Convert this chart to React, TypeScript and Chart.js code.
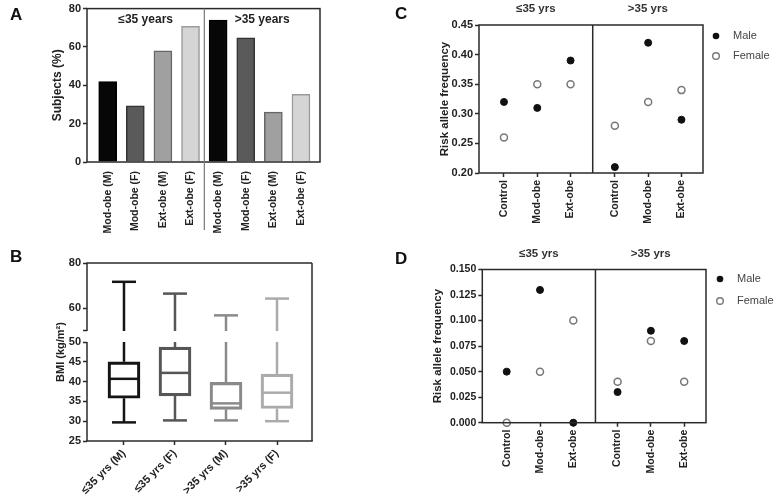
import React, { useEffect, useRef } from 'react';
import { Chart, registerables, LinearScale } from 'chart.js';

const FONT = '"Liberation Sans", Arial, Helvetica, sans-serif';

// ---------- Panel A data ----------
const A_GROUPS = ['≤35 years', '>35 years'];
const A_CATEGORIES = ['Mod-obe (M)', 'Mod-obe (F)', 'Ext-obe (M)', 'Ext-obe (F)', 'Mod-obe (M)', 'Mod-obe (F)', 'Ext-obe (M)', 'Ext-obe (F)'];
const A_VALUES = [42, 29.3, 58, 70.7, 74, 64.7, 26, 35.3];
const A_TICKS = [0, 20, 40, 60, 80];

// ---------- Panel B data ----------
const B_CATEGORIES = ['≤35 yrs (M)', '≤35 yrs (F)', '>35 yrs (M)', '>35 yrs (F)'];
const B_MIN = [29.7, 30.2, 30.2, 30.0];
const B_Q1 = [35.8, 36.4, 33.0, 33.2];
const B_MEDIAN = [40.7, 42.2, 34.5, 37.2];
const B_Q3 = [45.0, 48.7, 39.8, 41.9];
const B_MAX = [71.7, 66.5, 56.9, 64.3];
const B_TICKS = [25, 30, 35, 40, 45, 50, 60, 80];

// ---------- Panels C & D data ----------
const CD_GROUPS = ['≤35 yrs', '>35 yrs'];
const CD_CATEGORIES = ['Control', 'Mod-obe', 'Ext-obe', 'Control', 'Mod-obe', 'Ext-obe'];
const CD_SERIES = ['Male', 'Female'];
const C_MALE = [0.32, 0.31, 0.39, 0.21, 0.42, 0.29];
const C_FEMALE = [0.26, 0.35, 0.35, 0.28, 0.32, 0.34];
const C_TICKS = [0.2, 0.25, 0.3, 0.35, 0.4, 0.45];
const D_MALE = [0.05, 0.13, 0.0, 0.03, 0.09, 0.08];
const D_FEMALE = [0.0, 0.05, 0.1, 0.04, 0.08, 0.04];
const D_TICKS = [0, 0.025, 0.05, 0.075, 0.1, 0.125, 0.15];

// ---------- styling ----------
const A_FILL = ['#070707', '#5a5a5a', '#a0a0a0', '#d5d5d5'];
const A_BORDER = ['#000000', '#333333', '#666666', '#9a9a9a'];
const B_COLORS = ['#151515', '#565656', '#8a8a8a', '#ababab'];
const AXIS = '#2a2a2a';
const TEXT = '#222222';

// broken axis layout for panel B (value break between 50 and upper segment)
const BRK = { low: 25, mid: 50, high: 80, lowFrac: 99 / 178, gapFrac: 11 / 178 };

class BrokenScale extends LinearScale {
  getPixelForValue(value: number) {
    const h = this.bottom - this.top;
    const lowH = h * BRK.lowFrac;
    const upH = h * (1 - BRK.lowFrac - BRK.gapFrac);
    if (value <= BRK.mid) return this.bottom - ((value - BRK.low) / (BRK.mid - BRK.low)) * lowH;
    return this.top + ((BRK.high - value) / (BRK.high - BRK.mid)) * upH;
  }
  getValueForPixel(pixel: number) {
    const h = this.bottom - this.top;
    const lowH = h * BRK.lowFrac;
    const upH = h * (1 - BRK.lowFrac - BRK.gapFrac);
    if (pixel >= this.bottom - lowH) return BRK.low + ((this.bottom - pixel) / lowH) * (BRK.mid - BRK.low);
    return BRK.high - ((pixel - this.top) / upH) * (BRK.high - BRK.mid);
  }
}
(BrokenScale as any).id = 'broken';
(BrokenScale as any).defaults = (LinearScale as any).defaults;

Chart.register(...registerables, BrokenScale as any);

const bold = (size: number) => ({ family: FONT, size, weight: 'bold' as const });

function line(ctx: CanvasRenderingContext2D, x1: number, y1: number, x2: number, y2: number) {
  ctx.beginPath();
  ctx.moveTo(x1, y1);
  ctx.lineTo(x2, y2);
  ctx.stroke();
}

function yAxis(min: number, max: number, ticks: number[], width: number, title: string, titleSize: number, tickSize: number, fmt: (v: number) => string, type = 'linear') {
  return {
    type,
    min,
    max,
    afterBuildTicks: (s: any) => { s.ticks = ticks.map((v) => ({ value: v })); },
    afterFit: (s: any) => { s.width = width; },
    ticks: { autoSkip: false, font: bold(tickSize), color: TEXT, padding: 2, callback: (v: any) => fmt(Number(v)) },
    grid: { display: true, drawOnChartArea: false, drawTicks: true, tickLength: 4, tickColor: AXIS, tickWidth: 1.5 },
    border: { display: false },
    title: { display: true, text: title, font: bold(titleSize), color: TEXT, padding: 0 },
  };
}

function xAxis(min: number, max: number, positions: number[], labels: string[], height: number, rotation: number, size: number, tickLen: number, padding: number) {
  return {
    type: 'linear',
    min,
    max,
    offset: false,
    afterBuildTicks: (s: any) => { s.ticks = positions.map((v) => ({ value: v })); },
    afterFit: (s: any) => { s.height = height; },
    ticks: { autoSkip: false, minRotation: rotation, maxRotation: rotation, font: bold(size), color: TEXT, padding, callback: (_v: any, i: number) => labels[i] },
    grid: { display: true, offset: false, drawOnChartArea: false, drawTicks: tickLen > 0, tickLength: tickLen, tickColor: AXIS, tickWidth: 1.5 },
    border: { display: false },
  };
}

const baseOptions = (padding: any) => ({
  responsive: false,
  animation: false as const,
  devicePixelRatio: 1,
  events: [] as any[],
  layout: { padding },
  plugins: { legend: { display: false }, tooltip: { enabled: false } },
});

// ---------- Panel A ----------
function buildA(canvas: HTMLCanvasElement) {
  const overlay = {
    id: 'overlayA',
    afterDraw(chart: any) {
      const { ctx, chartArea: ca, scales } = chart;
      ctx.save();
      ctx.strokeStyle = AXIS;
      ctx.lineWidth = 1.5;
      ctx.strokeRect(ca.left, ca.top, ca.right - ca.left, ca.bottom - ca.top);
      const xd = scales.x.getPixelForValue(3.5);
      ctx.strokeStyle = '#777';
      ctx.lineWidth = 1.2;
      line(ctx, xd, ca.top, xd, ca.bottom + 68);
      ctx.fillStyle = TEXT;
      ctx.font = `bold 12px ${FONT}`;
      ctx.textAlign = 'center';
      ctx.textBaseline = 'middle';
      ctx.fillText(A_GROUPS[0], (ca.left + xd) / 2, ca.top + 11);
      ctx.fillText(A_GROUPS[1], (xd + ca.right) / 2, ca.top + 11);
      ctx.restore();
    },
  };
  return new Chart(canvas, {
    type: 'bar',
    data: {
      datasets: [{
        data: A_VALUES.map((v, i) => ({ x: i, y: v })),
        backgroundColor: A_VALUES.map((_, i) => A_FILL[i % 4]),
        borderColor: A_VALUES.map((_, i) => A_BORDER[i % 4]),
        borderWidth: 1.5,
        barThickness: 18,
      }],
    },
    options: {
      ...baseOptions({ left: 50, top: 6, right: 75, bottom: 0 }),
      scales: {
        x: xAxis(-0.75, 7.69, A_VALUES.map((_, i) => i), A_CATEGORIES, 86, 90, 10.5, 0, 9),
        y: yAxis(0, 80, A_TICKS, 37, 'Subjects (%)', 12, 11, (v) => String(v)),
      },
    } as any,
    plugins: [overlay],
  });
}

// ---------- Panel B ----------
function buildB(canvas: HTMLCanvasElement) {
  const overlay = {
    id: 'overlayB',
    afterDatasetsDraw(chart: any) {
      const { ctx, scales } = chart;
      const ys = (v: number) => scales.y.getPixelForValue(v);
      const vseg = (x: number, v1: number, v2: number) => {
        if (v1 < BRK.mid && v2 > BRK.mid) {
          line(ctx, x, ys(v1), x, ys(BRK.mid));
          line(ctx, x, ys(BRK.mid + 1e-4), x, ys(v2));
        } else {
          line(ctx, x, ys(v1), x, ys(v2));
        }
      };
      ctx.save();
      ctx.lineWidth = 2.5;
      ctx.lineCap = 'butt';
      B_CATEGORIES.forEach((_, i) => {
        const x = scales.x.getPixelForValue(i);
        ctx.strokeStyle = B_COLORS[i];
        vseg(x, B_MIN[i], B_Q1[i]);
        vseg(x, B_Q3[i], B_MAX[i]);
        line(ctx, x - 12, ys(B_MIN[i]), x + 12, ys(B_MIN[i]));
        line(ctx, x - 12, ys(B_MAX[i]), x + 12, ys(B_MAX[i]));
        line(ctx, x - 15, ys(B_MEDIAN[i]), x + 15, ys(B_MEDIAN[i]));
      });
      ctx.restore();
    },
    afterDraw(chart: any) {
      const { ctx, chartArea: ca, scales } = chart;
      const ys = (v: number) => scales.y.getPixelForValue(v);
      ctx.save();
      ctx.strokeStyle = AXIS;
      ctx.lineWidth = 1.5;
      line(ctx, ca.left - 0.75, ca.top, ca.right, ca.top);
      line(ctx, ca.right, ca.top, ca.right, ca.bottom);
      line(ctx, ca.left - 0.75, ca.bottom, ca.right + 0.75, ca.bottom);
      line(ctx, ca.left, ca.bottom, ca.left, ys(BRK.mid));
      line(ctx, ca.left, ys(BRK.mid + 1e-4), ca.left, ca.top);
      ctx.restore();
    },
  };
  const yTicks = [...B_TICKS.slice(0, 6), BRK.mid + 1e-4, ...B_TICKS.slice(6)];
  return new Chart(canvas, {
    type: 'bar',
    data: {
      datasets: [{
        data: B_Q1.map((q, i) => ({ x: i, y: [q, B_Q3[i]] })),
        backgroundColor: 'rgba(255,255,255,0)',
        borderColor: B_COLORS,
        borderWidth: 2.5,
        borderSkipped: false,
        barThickness: 32,
      }],
    },
    options: {
      ...baseOptions({ left: 54, top: 15, right: 83, bottom: 0 }),
      scales: {
        x: xAxis(-0.725, 3.686, B_CATEGORIES.map((_, i) => i), B_CATEGORIES, 56, 45, 11, 4, 2),
        y: yAxis(25, 80, yTicks, 33, 'BMI (kg/m²)', 11, 11, (v) => (Number.isInteger(v) ? String(v) : ''), 'broken'),
      },
    } as any,
    plugins: [overlay],
  });
}

// ---------- Panels C & D ----------
const CD_POS = CD_CATEGORIES.map((_, i) => i + (i >= 3 ? 0.33 : 0));

function buildDots(
  canvas: HTMLCanvasElement,
  male: number[], female: number[], ticks: number[], decimals: number,
  geo: { padLeft: number; padTop: number; padRight: number; yWidth: number; xHeight: number; xMin: number; xMax: number; headerY: number; legX: number; legY: number[]; tickSize: number },
) {
  const overlay = {
    id: 'overlayDots',
    afterDraw(chart: any) {
      const { ctx, chartArea: ca, scales } = chart;
      ctx.save();
      ctx.strokeStyle = AXIS;
      ctx.lineWidth = 1.5;
      ctx.strokeRect(ca.left, ca.top, ca.right - ca.left, ca.bottom - ca.top);
      const xd = scales.x.getPixelForValue((CD_POS[2] + CD_POS[3]) / 2);
      line(ctx, xd, ca.top, xd, ca.bottom);
      ctx.fillStyle = '#333';
      ctx.font = `bold 11.5px ${FONT}`;
      ctx.textAlign = 'center';
      ctx.textBaseline = 'middle';
      ctx.fillText(CD_GROUPS[0], (ca.left + xd) / 2, geo.headerY);
      ctx.fillText(CD_GROUPS[1], (xd + ca.right) / 2, geo.headerY);
      // legend
      ctx.font = `11px ${FONT}`;
      ctx.textAlign = 'left';
      CD_SERIES.forEach((name, i) => {
        const y = geo.legY[i];
        ctx.beginPath();
        ctx.arc(geo.legX, y, 3.3, 0, Math.PI * 2);
        if (i === 0) {
          ctx.fillStyle = '#111';
          ctx.fill();
        } else {
          ctx.fillStyle = '#fff';
          ctx.fill();
          ctx.strokeStyle = '#777';
          ctx.lineWidth = 1.4;
          ctx.stroke();
        }
        ctx.fillStyle = '#444';
        ctx.fillText(name, geo.legX + 17, y);
      });
      ctx.restore();
    },
  };
  return new Chart(canvas, {
    type: 'scatter',
    data: {
      datasets: [
        {
          label: CD_SERIES[0],
          data: male.map((v, i) => ({ x: CD_POS[i], y: v })),
          pointRadius: 3.5,
          pointBackgroundColor: '#111',
          pointBorderColor: '#111',
          pointBorderWidth: 1,
          clip: false,
        },
        {
          label: CD_SERIES[1],
          data: female.map((v, i) => ({ x: CD_POS[i], y: v })),
          pointRadius: 3.5,
          pointBackgroundColor: '#fff',
          pointBorderColor: '#777',
          pointBorderWidth: 1.5,
          clip: false,
        },
      ],
    },
    options: {
      ...baseOptions({ left: geo.padLeft, top: geo.padTop, right: geo.padRight, bottom: 0 }),
      scales: {
        x: xAxis(geo.xMin, geo.xMax, CD_POS, CD_CATEGORIES, geo.xHeight, 90, 10.5, 4, 3),
        y: yAxis(ticks[0], ticks[ticks.length - 1], ticks, geo.yWidth, 'Risk allele frequency', 11.5, geo.tickSize, (v) => v.toFixed(decimals)),
      },
    } as any,
    plugins: [overlay],
  });
}

const buildC = (c: HTMLCanvasElement) => buildDots(c, C_MALE, C_FEMALE, C_TICKS, 2, {
  padLeft: 43, padTop: 25, padRight: 75, yWidth: 41, xHeight: 75, xMin: -0.75, xMax: 5.977,
  headerY: 9, legX: 321, legY: [36, 56], tickSize: 11,
});

const buildD = (c: HTMLCanvasElement) => buildDots(c, D_MALE, D_FEMALE, D_TICKS, 3, {
  padLeft: 36, padTop: 21.5, padRight: 72, yWidth: 51.3, xHeight: 74.3, xMin: -0.733, xMax: 5.985,
  headerY: 5.5, legX: 325, legY: [31, 53], tickSize: 10.5,
});

function Panel({ left, top, width, height, build }: { left: number; top: number; width: number; height: number; build: (c: HTMLCanvasElement) => Chart }) {
  const ref = useRef<HTMLCanvasElement>(null);
  useEffect(() => {
    const chart = build(ref.current!);
    return () => chart.destroy();
  }, []);
  return <canvas ref={ref} width={width} height={height} style={{ position: 'absolute', left, top, width, height }} />;
}

const letter = (left: number, top: number): React.CSSProperties => ({
  position: 'absolute', left, top, fontFamily: FONT, fontWeight: 'bold', fontSize: 17, lineHeight: '17px', color: '#111',
});

export default function App() {
  return (
    <div style={{ position: 'fixed', left: 0, top: 0, width: 778, height: 497, background: '#fff', overflow: 'hidden' }}>
      <Panel left={0} top={0} width={395} height={248} build={buildA} />
      <Panel left={0} top={248} width={395} height={249} build={buildB} />
      <Panel left={395} top={0} width={383} height={248} build={buildC} />
      <Panel left={395} top={248} width={383} height={249} build={buildD} />
      <div style={letter(10, 6.3)}>A</div>
      <div style={letter(10, 248.3)}>B</div>
      <div style={letter(395, 4.6)}>C</div>
      <div style={letter(395, 249.6)}>D</div>
    </div>
  );
}
